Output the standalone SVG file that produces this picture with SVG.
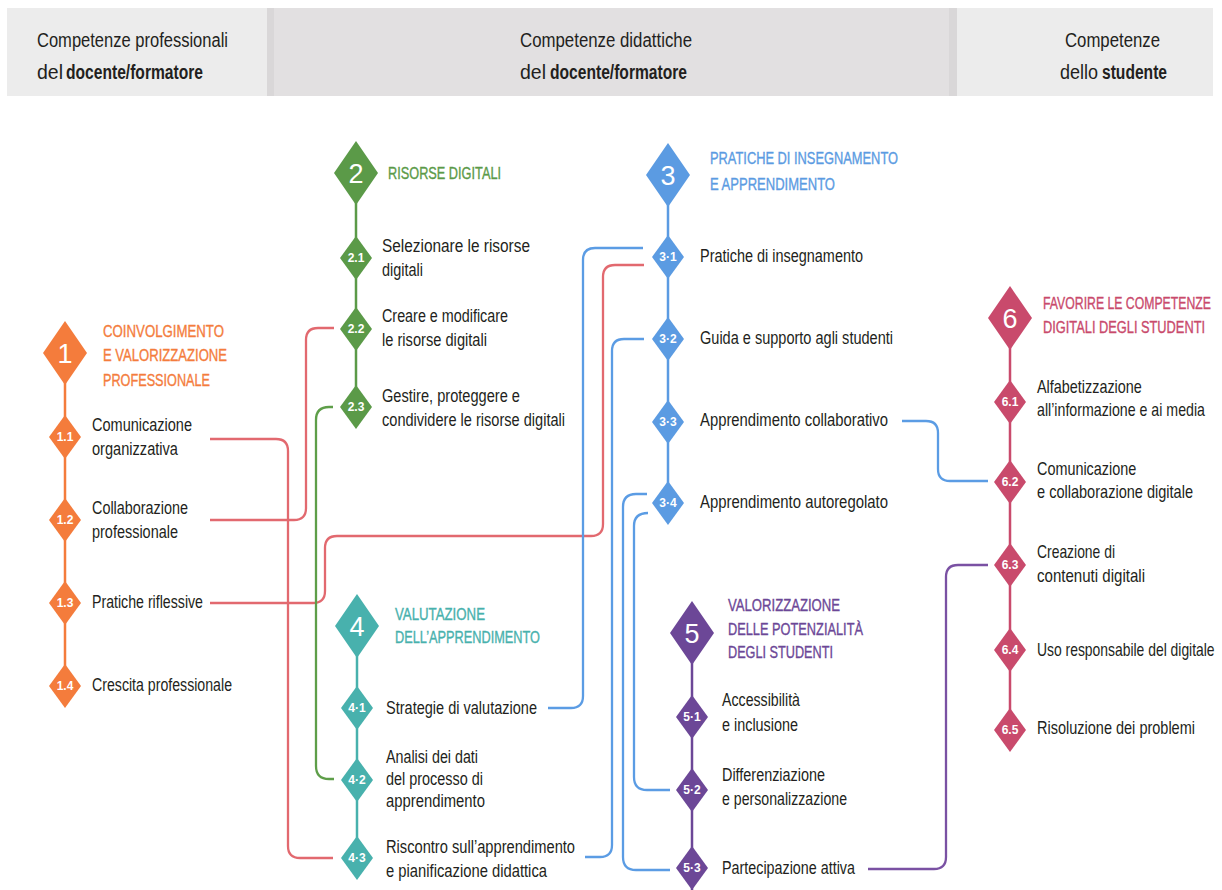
<svg xmlns="http://www.w3.org/2000/svg" xmlns:xlink="http://www.w3.org/1999/xlink" width="1222" height="890" viewBox="0 0 1222 890">
<style>
text{font-family:"Liberation Sans",Arial,sans-serif;}
.h{font-size:20px;fill:#231f20;}
.b{font-weight:bold;}
.t{font-size:17.5px;fill:#231f20;}
.cap{font-size:16.5px;stroke-width:0.35;}
.n{font-size:12px;fill:#fff;font-weight:bold;text-anchor:middle;}
.N{font-size:27px;fill:#fff;text-anchor:middle;}
.t.c1{fill:#f47c3c;stroke:#f47c3c;}
.t.c2{fill:#5b9a48;stroke:#5b9a48;}
.t.c3{fill:#5b9be2;stroke:#5b9be2;}
.t.c4{fill:#48b1ad;stroke:#48b1ad;}
.t.c5{fill:#6c4797;stroke:#6c4797;}
.t.c6{fill:#c94a6c;stroke:#c94a6c;}
.spine{stroke-width:2.5;fill:none;}
.c{fill:none;stroke-width:2.3;stroke-linecap:butt;}
.red{stroke:#e2696f;}
.blu{stroke:#5b9ce4;}
.grn{stroke:#5e9e49;}
.pur{stroke:#7a51a3;}
</style>
<defs>
<polygon id="big" points="0,-32 22,0 0,32 -22,0"/>
<polygon id="sm" points="0,-22 16,0 0,22 -16,0"/>
</defs>

<g id="header">
<rect x="7" y="8" width="1206" height="88" fill="#ececec"/>
<rect x="267" y="8" width="690" height="88" fill="#e2e0e1"/>
<rect x="267" y="8" width="7" height="88" fill="#d9d7d8"/>
<rect x="949" y="8" width="8" height="88" fill="#d9d7d8"/>
<text class="h" x="37" y="47" textLength="191" lengthAdjust="spacingAndGlyphs">Competenze professionali</text>
<text class="h" x="37" y="79" textLength="26" lengthAdjust="spacingAndGlyphs">del</text>
<text class="h b" x="66" y="79" textLength="137" lengthAdjust="spacingAndGlyphs">docente/formatore</text>
<text class="h" x="520" y="47" textLength="172" lengthAdjust="spacingAndGlyphs">Competenze didattiche</text>
<text class="h" x="520" y="79" textLength="26" lengthAdjust="spacingAndGlyphs">del</text>
<text class="h b" x="550" y="79" textLength="137" lengthAdjust="spacingAndGlyphs">docente/formatore</text>
<text class="h" x="1065" y="47" textLength="95" lengthAdjust="spacingAndGlyphs">Competenze</text>
<text class="h" x="1060" y="79" textLength="38" lengthAdjust="spacingAndGlyphs">dello</text>
<text class="h b" x="1102" y="79" textLength="65" lengthAdjust="spacingAndGlyphs">studente</text>
</g>

<g id="connectors">
<path class="c red" d="M210,439 H276 Q288,439 288,451 V846 Q288,858 300,858 H333"/>
<path class="c red" d="M210,520 H294 Q306,520 306,508 V340 Q306,328 318,328 H334"/>
<path class="c red" d="M210,603 H313 Q325,603 325,591 V548 Q325,536 337,536 H591 Q603,536 603,524 V277 Q603,265 615,265 H644"/>
<path class="c grn" d="M333,407 H329 Q316,407 316,420 V766 Q316,779 329,779 H334"/>
<path class="c blu" d="M548,708 H571 Q583,708 583,696 V260 Q583,248 595,248 H643"/>
<path class="c blu" d="M585,857 H600 Q612,857 612,845 V351 Q612,339 624,339 H644"/>
<path class="c blu" d="M647,494 H636 Q623,494 623,507 V857 Q623,870 636,870 H670"/>
<path class="c blu" d="M648,513 Q634,513 634,526 V777 Q634,790 647,790 H670"/>
<path class="c blu" d="M902,421 H926 Q938,421 938,433 V469 Q938,481 950,481 H988"/>
<path class="c pur" d="M868,869 H934 Q946,869 946,857 V577 Q946,565 958,565 H988"/>
</g>

<g id="area1" fill="#f47c3c">
<line class="spine" x1="65" y1="380" x2="65" y2="700" stroke="#f47c3c"/>
<use xlink:href="#big" x="65" y="353"/>
<text class="N" x="65" y="363">1</text>
<text class="t cap c1" x="103" y="337" textLength="121" lengthAdjust="spacingAndGlyphs">COINVOLGIMENTO</text>
<text class="t cap c1" x="103" y="361" textLength="124" lengthAdjust="spacingAndGlyphs">E VALORIZZAZIONE</text>
<text class="t cap c1" x="103" y="386" textLength="107" lengthAdjust="spacingAndGlyphs">PROFESSIONALE</text>
</g>
<g id="n1-1"><use xlink:href="#sm" x="65" y="437" fill="#f47c3c"/><text class="n" x="65" y="441">1.1</text>
<text class="t" x="92" y="431" textLength="100" lengthAdjust="spacingAndGlyphs">Comunicazione</text>
<text class="t" x="92" y="455" textLength="86" lengthAdjust="spacingAndGlyphs">organizzativa</text></g>
<g id="n1-2"><use xlink:href="#sm" x="65" y="520" fill="#f47c3c"/><text class="n" x="65" y="524">1.2</text>
<text class="t" x="92" y="514" textLength="96" lengthAdjust="spacingAndGlyphs">Collaborazione</text>
<text class="t" x="92" y="538" textLength="86" lengthAdjust="spacingAndGlyphs">professionale</text></g>
<g id="n1-3"><use xlink:href="#sm" x="65" y="603" fill="#f47c3c"/><text class="n" x="65" y="607">1.3</text>
<text class="t" x="92" y="608" textLength="111" lengthAdjust="spacingAndGlyphs">Pratiche riflessive</text></g>
<g id="n1-4"><use xlink:href="#sm" x="65" y="686" fill="#f47c3c"/><text class="n" x="65" y="690">1.4</text>
<text class="t" x="92" y="691" textLength="140" lengthAdjust="spacingAndGlyphs">Crescita professionale</text></g>

<g id="area2" fill="#5b9a48">
<line class="spine" x1="356" y1="200" x2="356" y2="425" stroke="#5b9a48"/>
<use xlink:href="#big" x="356" y="173"/>
<text class="N" x="356" y="183">2</text>
<text class="t cap c2" x="388" y="179" textLength="113" lengthAdjust="spacingAndGlyphs">RISORSE DIGITALI</text>
</g>
<g id="n2-1"><use xlink:href="#sm" x="356" y="258" fill="#5b9a48"/><text class="n" x="356" y="262">2.1</text>
<text class="t" x="382" y="252" textLength="148" lengthAdjust="spacingAndGlyphs">Selezionare le risorse</text>
<text class="t" x="382" y="276" textLength="41" lengthAdjust="spacingAndGlyphs">digitali</text></g>
<g id="n2-2"><use xlink:href="#sm" x="356" y="329" fill="#5b9a48"/><text class="n" x="356" y="333">2.2</text>
<text class="t" x="382" y="322" textLength="126" lengthAdjust="spacingAndGlyphs">Creare e modificare</text>
<text class="t" x="382" y="346" textLength="105" lengthAdjust="spacingAndGlyphs">le risorse digitali</text></g>
<g id="n2-3"><use xlink:href="#sm" x="356" y="407" fill="#5b9a48"/><text class="n" x="356" y="411">2.3</text>
<text class="t" x="382" y="402" textLength="138" lengthAdjust="spacingAndGlyphs">Gestire, proteggere e</text>
<text class="t" x="382" y="426" textLength="183" lengthAdjust="spacingAndGlyphs">condividere le risorse digitali</text></g>

<g id="area3" fill="#5b9be2">
<line class="spine" x1="668" y1="200" x2="668" y2="520" stroke="#5b9be2"/>
<use xlink:href="#big" x="668" y="175"/>
<text class="N" x="668" y="185">3</text>
<text class="t cap c3" x="710" y="164" textLength="188" lengthAdjust="spacingAndGlyphs">PRATICHE DI INSEGNAMENTO</text>
<text class="t cap c3" x="710" y="190" textLength="125" lengthAdjust="spacingAndGlyphs">E APPRENDIMENTO</text>
</g>
<g id="n3-1"><use xlink:href="#sm" x="668" y="257" fill="#5b9be2"/><text class="n" x="668" y="261">3·1</text>
<text class="t" x="700" y="262" textLength="163" lengthAdjust="spacingAndGlyphs">Pratiche di insegnamento</text></g>
<g id="n3-2"><use xlink:href="#sm" x="668" y="339" fill="#5b9be2"/><text class="n" x="668" y="343">3·2</text>
<text class="t" x="700" y="344" textLength="193" lengthAdjust="spacingAndGlyphs">Guida e supporto agli studenti</text></g>
<g id="n3-3"><use xlink:href="#sm" x="668" y="422" fill="#5b9be2"/><text class="n" x="668" y="426">3·3</text>
<text class="t" x="700" y="426" textLength="188" lengthAdjust="spacingAndGlyphs">Apprendimento collaborativo</text></g>
<g id="n3-4"><use xlink:href="#sm" x="668" y="503" fill="#5b9be2"/><text class="n" x="668" y="507">3·4</text>
<text class="t" x="700" y="508" textLength="188" lengthAdjust="spacingAndGlyphs">Apprendimento autoregolato</text></g>

<g id="area4" fill="#48b1ad">
<line class="spine" x1="357" y1="650" x2="357" y2="875" stroke="#48b1ad"/>
<use xlink:href="#big" x="357" y="626"/>
<text class="N" x="357" y="636">4</text>
<text class="t cap c4" x="395" y="620" textLength="90" lengthAdjust="spacingAndGlyphs">VALUTAZIONE</text>
<text class="t cap c4" x="395" y="643" textLength="145" lengthAdjust="spacingAndGlyphs">DELL’APPRENDIMENTO</text>
</g>
<g id="n4-1"><use xlink:href="#sm" x="357" y="708" fill="#48b1ad"/><text class="n" x="357" y="712">4·1</text>
<text class="t" x="386" y="714" textLength="151" lengthAdjust="spacingAndGlyphs">Strategie di valutazione</text></g>
<g id="n4-2"><use xlink:href="#sm" x="357" y="780" fill="#48b1ad"/><text class="n" x="357" y="784">4·2</text>
<text class="t" x="386" y="763" textLength="92" lengthAdjust="spacingAndGlyphs">Analisi dei dati</text>
<text class="t" x="386" y="785" textLength="97" lengthAdjust="spacingAndGlyphs">del processo di</text>
<text class="t" x="386" y="807" textLength="99" lengthAdjust="spacingAndGlyphs">apprendimento</text></g>
<g id="n4-3"><use xlink:href="#sm" x="357" y="858" fill="#48b1ad"/><text class="n" x="357" y="862">4·3</text>
<text class="t" x="386" y="853" textLength="189" lengthAdjust="spacingAndGlyphs">Riscontro sull’apprendimento</text>
<text class="t" x="386" y="877" textLength="161" lengthAdjust="spacingAndGlyphs">e pianificazione didattica</text></g>

<g id="area5" fill="#6c4797">
<line class="spine" x1="692" y1="660" x2="692" y2="890" stroke="#6c4797"/>
<use xlink:href="#big" x="692" y="633"/>
<text class="N" x="692" y="643">5</text>
<text class="t cap c5" x="728" y="611" textLength="112" lengthAdjust="spacingAndGlyphs">VALORIZZAZIONE</text>
<text class="t cap c5" x="728" y="635" textLength="135" lengthAdjust="spacingAndGlyphs">DELLE POTENZIALITÀ</text>
<text class="t cap c5" x="728" y="658" textLength="105" lengthAdjust="spacingAndGlyphs">DEGLI STUDENTI</text>
</g>
<g id="n5-1"><use xlink:href="#sm" x="692" y="717" fill="#6c4797"/><text class="n" x="692" y="721">5·1</text>
<text class="t" x="722" y="706" textLength="78" lengthAdjust="spacingAndGlyphs">Accessibilità</text>
<text class="t" x="722" y="731" textLength="76" lengthAdjust="spacingAndGlyphs">e inclusione</text></g>
<g id="n5-2"><use xlink:href="#sm" x="692" y="790" fill="#6c4797"/><text class="n" x="692" y="794">5·2</text>
<text class="t" x="722" y="781" textLength="103" lengthAdjust="spacingAndGlyphs">Differenziazione</text>
<text class="t" x="722" y="805" textLength="125" lengthAdjust="spacingAndGlyphs">e personalizzazione</text></g>
<g id="n5-3"><use xlink:href="#sm" x="692" y="868" fill="#6c4797"/><text class="n" x="692" y="872">5·3</text>
<text class="t" x="722" y="874" textLength="133" lengthAdjust="spacingAndGlyphs">Partecipazione attiva</text></g>

<g id="area6" fill="#c94a6c">
<line class="spine" x1="1010" y1="345" x2="1010" y2="745" stroke="#c94a6c"/>
<use xlink:href="#big" x="1010" y="318"/>
<text class="N" x="1010" y="328">6</text>
<text class="t cap c6" transform="translate(1043,309) scale(0.74,1)" textLength="227" lengthAdjust="spacingAndGlyphs">FAVORIRE LE COMPETENZE</text>
<text class="t cap c6" transform="translate(1043,333) scale(0.74,1)" textLength="219" lengthAdjust="spacingAndGlyphs">DIGITALI DEGLI STUDENTI</text>
</g>
<g id="n6-1"><use xlink:href="#sm" x="1010" y="402" fill="#c94a6c"/><text class="n" x="1010" y="406">6.1</text>
<text class="t" transform="translate(1037,393) scale(0.8,1)" textLength="131" lengthAdjust="spacingAndGlyphs">Alfabetizzazione</text>
<text class="t" transform="translate(1037,416) scale(0.8,1)" textLength="210" lengthAdjust="spacingAndGlyphs">all’informazione e ai media</text></g>
<g id="n6-2"><use xlink:href="#sm" x="1010" y="482" fill="#c94a6c"/><text class="n" x="1010" y="486">6.2</text>
<text class="t" transform="translate(1037,475) scale(0.8,1)" textLength="124" lengthAdjust="spacingAndGlyphs">Comunicazione</text>
<text class="t" transform="translate(1037,498) scale(0.8,1)" textLength="195" lengthAdjust="spacingAndGlyphs">e collaborazione digitale</text></g>
<g id="n6-3"><use xlink:href="#sm" x="1010" y="565" fill="#c94a6c"/><text class="n" x="1010" y="569">6.3</text>
<text class="t" transform="translate(1037,558) scale(0.8,1)" textLength="97.5" lengthAdjust="spacingAndGlyphs">Creazione di</text>
<text class="t" transform="translate(1037,582) scale(0.8,1)" textLength="135" lengthAdjust="spacingAndGlyphs">contenuti digitali</text></g>
<g id="n6-4"><use xlink:href="#sm" x="1010" y="650" fill="#c94a6c"/><text class="n" x="1010" y="654">6.4</text>
<text class="t" transform="translate(1037,656) scale(0.8,1)" textLength="222" lengthAdjust="spacingAndGlyphs">Uso responsabile del digitale</text></g>
<g id="n6-5"><use xlink:href="#sm" x="1010" y="730" fill="#c94a6c"/><text class="n" x="1010" y="734">6.5</text>
<text class="t" transform="translate(1037,734) scale(0.8,1)" textLength="197.5" lengthAdjust="spacingAndGlyphs">Risoluzione dei problemi</text></g>
</svg>
